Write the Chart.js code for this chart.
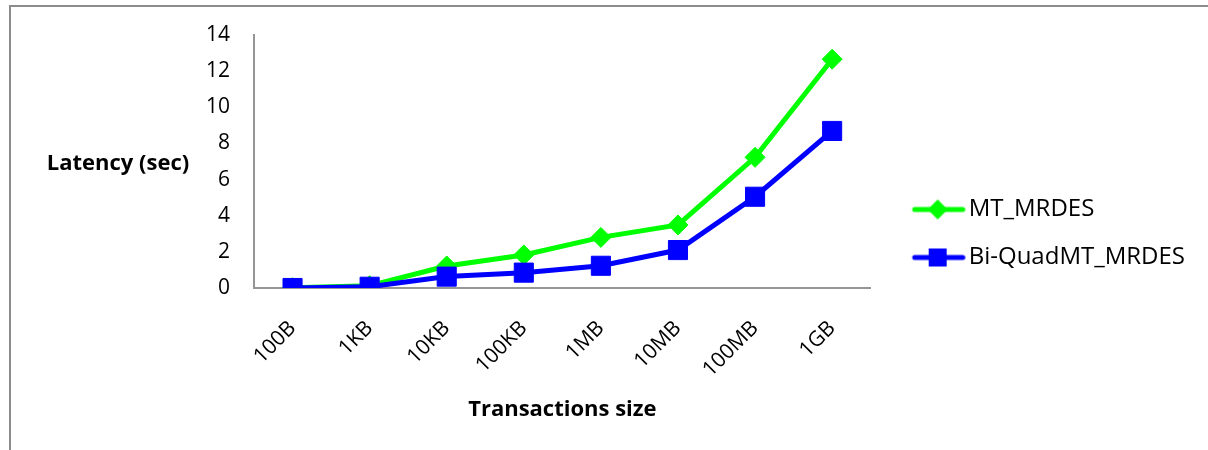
<!DOCTYPE html>
<html>
<head>
<meta charset="utf-8">
<script src="https://cdn.jsdelivr.net/npm/chart.js@4/dist/chart.umd.min.js"></script>
<style>
  html, body { margin: 0; padding: 0; background: #fff; }
  #frame { position: absolute; left: 9px; top: 5px; width: 1199px; height: 445px;
           border-left: 2px solid #8c8c8c; border-top: 2px solid #8c8c8c; box-sizing: border-box; }
  #c { position: absolute; left: 0; top: 0; }
</style>
</head>
<body>
<div id="frame"><canvas id="c" width="1197" height="443"></canvas></div>
<script>
const categories = ['100B', '1KB', '10KB', '100KB', '1MB', '10MB', '100MB', '1GB'];
const mtMrdes = [0.02, 0.13, 1.22, 1.83, 2.8, 3.49, 7.23, 12.66];
const biQuadMtMrdes = [0.0, 0.07, 0.63, 0.85, 1.23, 2.1, 5.05, 8.69];
const yTicks = [0, 2, 4, 6, 8, 10, 12, 14];
const seriesNames = ['MT_MRDES', 'Bi-QuadMT_MRDES'];
const yTitle = 'Latency (sec)';
const xTitle = 'Transactions size';

const FONT = "'Open Sans', 'Liberation Sans', sans-serif";
const GREEN = '#00ff00', BLUE = '#0000ff', AXIS = '#969696';

function legendImage(color, style) {
  const c = document.createElement('canvas');
  c.width = 80; c.height = 24;
  const g = c.getContext('2d');
  g.strokeStyle = color; g.fillStyle = color;
  g.lineWidth = 5; g.lineCap = 'round';
  g.beginPath(); g.moveTo(29, 12); g.lineTo(77, 12); g.stroke();
  g.beginPath();
  if (style === 'diamond') {
    g.moveTo(52, 2); g.lineTo(62, 12); g.lineTo(52, 22); g.lineTo(42, 12); g.closePath();
  } else {
    g.rect(43, 3, 18, 18);
  }
  g.fill();
  return c;
}

const yTitlePlugin = {
  id: 'yTitle',
  afterDraw(chart) {
    const ctx = chart.ctx, a = chart.chartArea;
    ctx.save();
    ctx.font = "bold 22px " + FONT;
    ctx.fillStyle = '#000';
    ctx.textAlign = 'center';
    ctx.textBaseline = 'middle';
    ctx.fillText(yTitle, 107, (a.top + a.bottom) / 2 + 2);
    ctx.restore();
  }
};

new Chart(document.getElementById('c'), {
  type: 'line',
  data: {
    labels: categories,
    datasets: [
      { label: seriesNames[0], data: mtMrdes, borderColor: GREEN, backgroundColor: GREEN,
        borderWidth: 5, pointStyle: 'rectRot', pointRadius: 10, pointBorderWidth: 1,
        pointHoverRadius: 10, tension: 0, order: 2 },
      { label: seriesNames[1], data: biQuadMtMrdes, borderColor: BLUE, backgroundColor: BLUE,
        borderWidth: 5, pointStyle: 'rect', pointRadius: 13.5, pointBorderWidth: 1,
        pointHoverRadius: 13.5, tension: 0, order: 1 }
    ]
  },
  options: {
    responsive: false,
    animation: false,
    devicePixelRatio: 1,
    layout: { padding: { left: 0, right: 13, top: 10, bottom: 0 } },
    plugins: {
      tooltip: { enabled: false },
      legend: {
        position: 'right',
        maxWidth: 420,
        labels: {
          usePointStyle: true,
          pointStyleWidth: 62,
          padding: 24,
          color: '#000',
          font: { family: FONT, size: 24 },
          generateLabels(chart) {
            return chart.data.datasets.map((ds, i) => ({
              text: ds.label,
              pointStyle: legendImage(ds.borderColor, i === 0 ? 'diamond' : 'square'),
              fillStyle: ds.borderColor, strokeStyle: ds.borderColor, lineWidth: 0,
              hidden: false, datasetIndex: i, fontColor: '#000'
            }));
          }
        }
      }
    },
    scales: {
      x: {
        offset: true,
        grid: { display: false, drawTicks: false },
        border: { display: true, color: AXIS, width: 2 },
        ticks: { color: '#000', font: { family: FONT, size: 21 }, minRotation: 45, maxRotation: 45, padding: 28 },
        title: { display: true, text: xTitle, color: '#000', font: { family: FONT, size: 22, weight: 'bold' },
                 padding: { top: 0, bottom: 27 } },
        afterFit(scale) { scale.height = 162; }
      },
      y: {
        min: 0, max: 14,
        afterBuildTicks(scale) { scale.ticks = yTicks.map(v => ({ value: v })); },
        grid: { display: false, drawTicks: false },
        border: { display: true, color: AXIS, width: 2 },
        ticks: { color: '#000', font: { family: FONT, size: 21 }, padding: 24 },
        afterFit(scale) { scale.width = 243; scale.paddingTop = 28; scale.paddingBottom = 13; }
      }
    }
  },
  plugins: [yTitlePlugin]
});
</script>
</body>
</html>
